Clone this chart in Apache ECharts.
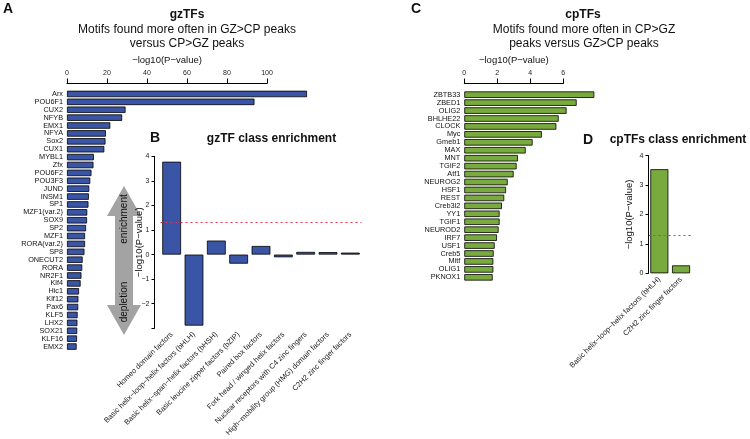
<!DOCTYPE html>
<html><head><meta charset="utf-8">
<script src="https://cdn.jsdelivr.net/npm/echarts@6/dist/echarts.min.js"></script>
<style>html,body{margin:0;padding:0;background:#fff}#c{width:750px;height:439px}</style>
</head><body><div id="c"></div>
<script>
const FONT = '"Liberation Sans", Arial, Helvetica, sans-serif';
const BLUE = '#3a55a6';
const GREEN = '#79aa3d';

const gzCategories = ['Arx','POU6F1','CUX2','NFYB','EMX1','NFYA','Sox2','CUX1','MYBL1','Zfx','POU6F2','POU3F3','JUND','INSM1','SP1','MZF1(var.2)','SOX9','SP2','MZF1','RORA(var.2)','SP8','ONECUT2','RORA','NR2F1','Klf4','Hic1','Klf12','Pax6','KLF5','LHX2','SOX21','KLF16','EMX2'];
const gzValues = [119.7,93.5,29.2,27.5,21.6,19.4,19.2,18.6,13.4,13.2,12.2,11.6,11.1,10.9,10.7,10.1,10.0,9.5,9.0,9.0,8.7,7.8,7.6,7.2,6.8,6.0,5.7,5.6,5.3,5.2,5.1,5.0,4.8];
const gzTicks = [0,20,40,60,80,100];

const cpCategories = ['ZBTB33','ZBED1','OLIG2','BHLHE22','CLOCK','Myc','Gmeb1','MAX','MNT','TGIF2','Atf1','NEUROG2','HSF1','REST','Creb3l2','YY1','TGIF1','NEUROD2','IRF7','USF1','Creb5','Mitf','OLIG1','PKNOX1'];
const cpValues = [7.88,6.81,6.2,5.72,5.58,4.7,4.14,3.72,3.25,3.17,2.99,2.63,2.53,2.42,2.28,2.14,2.14,2.08,1.98,1.84,1.78,1.76,1.76,1.72];
const cpTicks = [0,2,4,6];

const gzClassCategories = ['Homeo domain factors','Basic helix\u2212loop\u2212helix factors (bHLH)','Basic helix\u2212span\u2212helix factors (bHSH)','Basic leucine zipper factors (bZIP)','Paired box factors','Fork head / winged helix factors','Nuclear receptors with C4 zinc fingers','High\u2212mobility group (HMG) domain factors','C2H2 zinc finger factors'];
const gzClassValues = [3.78,-2.89,0.57,-0.37,0.35,-0.11,0.11,0.10,0.08];
const gzClassTicks = [-3,-2,-1,0,1,2,3,4];

const cpClassCategories = ['Basic helix\u2212loop\u2212helix factors (bHLH)','C2H2 zinc finger factors'];
const cpClassValues = [3.54,0.27];
const cpClassTicks = [0,1,2,3,4];

const sigThreshold = 1.30103; // -log10(0.05)
const AXIS_NAME = '\u2212log10(P\u2212value)';

const fmt = v => String(v).replace('-', '\u2212');

function topAxis(grid, ticks) {
  return {
    gridIndex: grid, type: 'value', position: 'top',
    min: ticks[0], max: ticks[ticks.length - 1], interval: ticks[1] - ticks[0],
    name: AXIS_NAME, nameLocation: 'middle', nameGap: 17,
    nameTextStyle: { fontSize: 9.5, color: '#111', fontFamily: FONT },
    axisLine: { show: true, lineStyle: { color: '#000', width: 1 } },
    axisTick: { show: true, length: 5, lineStyle: { color: '#000', width: 1 } },
    axisLabel: { fontSize: 7, color: '#222', margin: 6, fontFamily: FONT },
    splitLine: { show: false }
  };
}
function catY(grid, cats) {
  return {
    gridIndex: grid, type: 'category', inverse: true, data: cats,
    axisLine: { show: false }, axisTick: { show: false },
    axisLabel: { fontSize: 7.3, color: '#111', margin: 4, interval: 0, fontFamily: FONT }
  };
}
function valY(grid, ticks, offset, hideFirst, gap) {
  return {
    gridIndex: grid, type: 'value', min: ticks[0], max: ticks[ticks.length - 1], interval: 1,
    offset: offset,
    name: AXIS_NAME, nameLocation: 'middle', nameGap: gap, nameMoveOverlap: false,
    nameTextStyle: { fontSize: 9.5, color: '#111', fontFamily: FONT },
    axisLine: { show: true, lineStyle: { color: '#000', width: 1 } },
    axisTick: { show: true, length: 3, lineStyle: { color: '#000', width: 1 } },
    axisLabel: { fontSize: 7, color: '#222', margin: 5, fontFamily: FONT,
      formatter: v => (hideFirst && v === ticks[0]) ? '' : fmt(v) },
    splitLine: { show: false },
    z: 5
  };
}
function catX(grid, cats) {
  return {
    gridIndex: grid, type: 'category', data: cats,
    axisLine: { show: false, onZero: false }, axisTick: { show: false },
    axisLabel: { rotate: 45, interval: 0, fontSize: 7.5, color: '#222', margin: 5, fontFamily: FONT }
  };
}
const sigLine = {
  silent: true, symbol: 'none', label: { show: false },
  lineStyle: { color: '#e8304a', type: [2, 3], width: 1 },
  data: [{ yAxis: sigThreshold }]
};
const txt = (t, x, y, size, bold, extra) => Object.assign({
  type: 'text', x: x, y: y,
  style: { text: t, fill: '#111', font: (bold ? 'bold ' : '') + size + 'px ' + FONT,
    textAlign: 'center', textVerticalAlign: 'middle', align: 'center', verticalAlign: 'middle' }
}, extra || {});

const option = {
  animation: false,
  textStyle: { fontFamily: FONT },
  grid: [
    { left: 67, top: 90, width: 240, height: 260.5 },
    { left: 67, top: 82.5, width: 200, height: 1 },
    { left: 160.5, top: 156.3, width: 201, height: 172 },
    { left: 464.3, top: 90.7, width: 130, height: 190.6 },
    { left: 464.3, top: 82.5, width: 99, height: 1 },
    { left: 648.5, top: 155.7, width: 43.4, height: 117.6 }
  ],
  xAxis: [
    { gridIndex: 0, type: 'value', min: 0, max: 'dataMax', show: false },
    topAxis(1, gzTicks),
    catX(2, gzClassCategories),
    { gridIndex: 3, type: 'value', min: 0, max: 'dataMax', show: false },
    topAxis(4, cpTicks),
    catX(5, cpClassCategories)
  ],
  yAxis: [
    catY(0, gzCategories),
    { gridIndex: 1, type: 'value', show: false, min: 0, max: 1 },
    valY(2, gzClassTicks, 6, true, 10),
    catY(3, cpCategories),
    { gridIndex: 4, type: 'value', show: false, min: 0, max: 1 },
    valY(5, cpClassTicks, 0, false, 14)
  ],
  series: [
    { type: 'bar', xAxisIndex: 0, yAxisIndex: 0, data: gzValues, barCategoryGap: '18%',
      itemStyle: { color: BLUE, borderColor: '#000', borderWidth: 0.8 } },
    { type: 'bar', xAxisIndex: 2, yAxisIndex: 2, data: gzClassValues, barCategoryGap: '16%',
      itemStyle: { color: BLUE, borderColor: '#000', borderWidth: 0.8 }, markLine: sigLine },
    { type: 'bar', xAxisIndex: 3, yAxisIndex: 3, data: cpValues, barCategoryGap: '18%',
      itemStyle: { color: GREEN, borderColor: '#000', borderWidth: 0.8 } },
    { type: 'bar', xAxisIndex: 5, yAxisIndex: 5, data: cpClassValues, barCategoryGap: '17%',
      itemStyle: { color: GREEN, borderColor: '#000', borderWidth: 0.8 }, markLine: sigLine }
  ],
  graphic: [
    { type: 'polygon', z: -1,
      shape: { points: [[124,186],[141,216],[133,216],[133,305],[141,305],[124,335],[107,305],[115,305],[115,216],[107,216]] },
      style: { fill: '#a3a3a3' } },
    txt('enrichment', 124, 219, 10, false, { rotation: Math.PI / 2, z: 2 }),
    txt('depletion', 124, 302, 10, false, { rotation: Math.PI / 2, z: 2 }),
    txt('A', 8, 9, 14, true),
    txt('gzTFs', 187, 15, 12, true),
    txt('Motifs found more often in GZ>CP peaks', 187, 29.5, 12, false),
    txt('versus CP>GZ peaks', 187, 44, 12, false),
    txt('B', 155, 138, 14, true),
    txt('gzTF class enrichment', 271.5, 139, 12, true),
    txt('C', 416, 9, 14, true),
    txt('cpTFs', 583, 15, 12, true),
    txt('Motifs found more often in CP>GZ', 584, 29.5, 12, false),
    txt('peaks versus GZ>CP peaks', 584, 44, 12, false),
    txt('D', 588, 140, 14, true),
    txt('cpTFs class enrichment', 678, 140, 12, true)
  ]
};
const chart = echarts.init(document.getElementById('c'));
chart.setOption(option);
</script>
</body></html>
